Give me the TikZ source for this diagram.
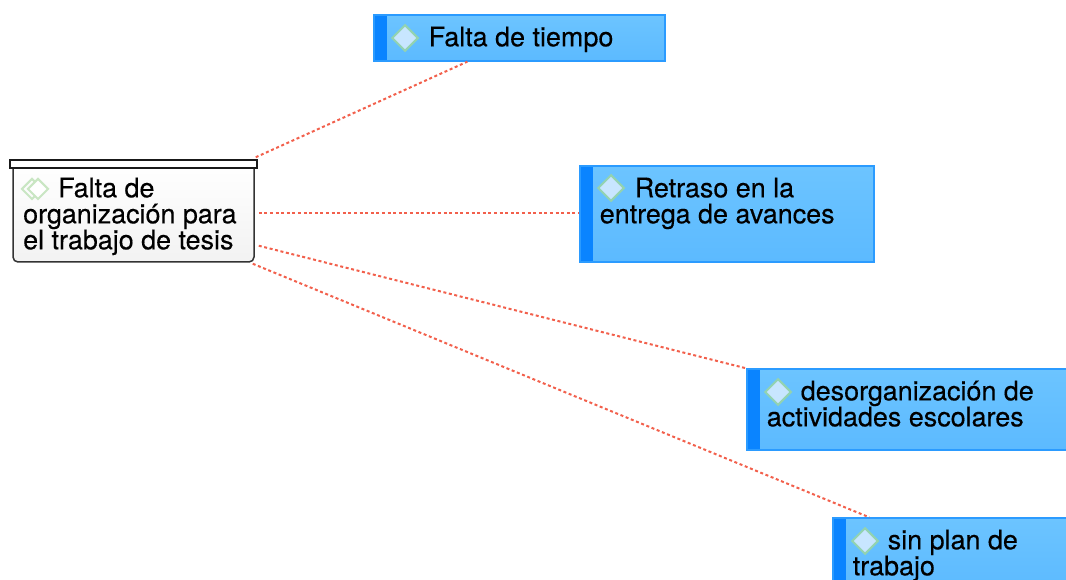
\documentclass[tikz,border=0pt]{standalone}
\usepackage{fontspec}
\setmainfont[FakeBold=0.35]{TeX Gyre Heros}
\usetikzlibrary{calc,shapes.geometric}
\definecolor{bandblue}{HTML}{0A84FF}
\definecolor{edgeblue}{HTML}{2B9BFF}
\definecolor{topblue}{HTML}{6CC4FF}
\definecolor{botblue}{HTML}{5CBAFF}
\definecolor{linkred}{HTML}{F2604C}
\definecolor{icongreen}{HTML}{93D3B0}
\definecolor{iconfill}{HTML}{C8E6FF}
\definecolor{markgreen}{HTML}{C9E6C3}
\tikzset{
  topicbox/.style={draw=edgeblue,line width=1.3pt,top color=topblue,bottom color=botblue,inner sep=0pt,
    path picture={\fill[bandblue] (path picture bounding box.south west) rectangle ($(path picture bounding box.north west)+(13,0)$);}},
  mainbody/.style={draw=black!80,line width=1.5pt,top color=white,bottom color=black!5,rounded corners=5pt,inner sep=0pt},
  mainbar/.style={draw=black!90,line width=1.5pt,fill=white,inner sep=0pt},
  label/.style={anchor=north west,inner sep=0pt,align=left,text=black,font=\fontsize{26.9}{26}\selectfont},
  icon/.style={diamond,draw=icongreen,line width=2pt,fill=iconfill,inner sep=0pt,minimum width=26.5pt,minimum height=26.5pt},
  markicon/.style={diamond,draw=markgreen,line width=2pt,inner sep=0pt,minimum width=21pt,minimum height=21pt},
  link/.style={draw=linkred,line width=2pt,dash pattern=on 3pt off 2.6pt}
}
\begin{document}
\begin{tikzpicture}[x=1pt,y=-1pt]
\useasboundingbox (0,0) rectangle (1066,580);
\clip (0,0) rectangle (1066,580);
\node[mainbody,minimum width=241pt,minimum height=100pt] (main) at (133.5,212) {};
\node[mainbar,minimum width=247pt,minimum height=8pt] (bar) at (133.5,164) {};
\node[topicbox,minimum width=291pt,minimum height=46pt] (a) at (519.5,38) {};
\node[topicbox,minimum width=294pt,minimum height=96pt] (b) at (727,214) {};
\node[topicbox,minimum width=338pt,minimum height=81pt] (c) at (916,409.5) {};
\node[topicbox,minimum width=252pt,minimum height=72pt] (d) at (959,554) {};
\draw[link] ($(main.north east)+(1,-4)$) -- ($(a.south west)+(94,0)$);
\draw[link] ($(main.east)+(4,1)$) -- ($(b.west)+(-1,-1)$);
\draw[link] ($(main.south east)+(4,-17)$) -- (c.north west);
\draw[link] ($(main.south east)+(-2,1)$) -- ($(d.north west)+(37,0)$);
\node[markicon] (m1) at (32,189) {};
\node[markicon,fill=white] (m2) at (38,189) {};
\node[icon] (ia) at (405,38) {};
\node[icon] (ib) at (611,188) {};
\node[icon] (ic) at (778,392) {};
\node[icon] (id) at (865,541) {};
\node[label] (tm) at (23,177.5) {\hspace*{35pt}Falta de\\organización para\\el trabajo de tesis};
\node[label] (ta) at (393.6,26.5) {\hspace*{35pt}Falta de tiempo};
\node[label] (tb) at (599.6,177.5) {\hspace*{35pt}Retraso en la\\entrega de avances};
\node[label] (tc) at (766.6,380.5) {\hspace*{34pt}desorganización de\\actividades escolares};
\node[label] (td) at (852.6,529.5) {\hspace*{35pt}sin plan de\\trabajo};
\end{tikzpicture}
\end{document}
